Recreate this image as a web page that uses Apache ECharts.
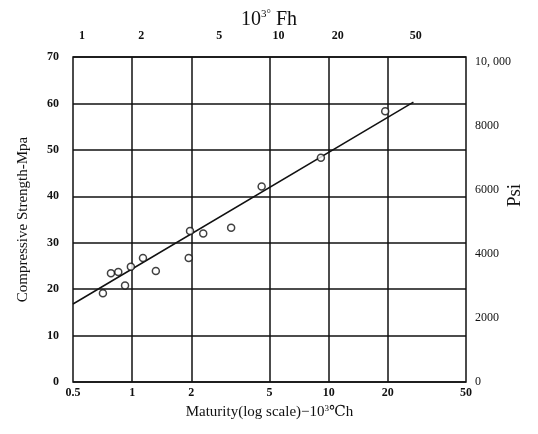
<!DOCTYPE html>
<html>
<head>
<meta charset="utf-8">
<script src="https://cdn.jsdelivr.net/npm/echarts@6/dist/echarts.min.js"></script>
<style>
  html, body { margin: 0; padding: 0; background: #fff; }
  #chart { width: 538px; height: 434px; }
</style>
</head>
<body>
<div id="chart"></div>
<script>
// maturity (10^3 °C·h) and compressive strength (MPa)
const maturity = [0.71, 0.78, 0.85, 0.92, 0.985, 1.135, 1.32, 1.94, 1.97, 2.3, 3.19, 4.56, 9.13, 19.4];
const strength = [19.1, 23.4, 23.7, 20.8, 24.8, 26.7, 23.9, 26.7, 32.5, 32.0, 33.2, 42.1, 48.3, 58.3];

// fitted line end points
const fitX = [0.5, 27];
const fitY = [16.8, 60.3];

const bottomTicks = [0.5, 1, 2, 5, 10, 20, 50];
const gridTicks = [1, 2, 5, 10, 20];
const topTicks = [1, 2, 5, 10, 20, 50];   // 10^3 °F·h

const serif = '"Liberation Serif", "DejaVu Serif", serif';
const ink = '#111';

const chart = echarts.init(document.getElementById('chart'));

chart.setOption({
  animation: false,
  backgroundColor: '#fff',
  title: {
    text: '10{sup|3°} Fh',
    left: 'center',
    top: 4,
    textStyle: {
      fontFamily: serif, fontSize: 20, fontWeight: 'normal', color: ink,
      rich: { sup: { fontFamily: serif, fontSize: 11, color: ink, verticalAlign: 'top', padding: [0, 0, 10, 0] } }
    }
  },
  grid: {
    left: 73, right: 72, top: 57, bottom: 52,
    outerBoundsMode: 'none',
    show: true, borderColor: ink, borderWidth: 1.5
  },
  xAxis: [
    {
      type: 'log', logBase: 10, min: 0.5, max: 50,
      name: 'Maturity(log scale)−10{sup|3}℃h',
      nameLocation: 'middle', nameGap: 20,
      nameTextStyle: {
        fontFamily: serif, fontSize: 15, color: ink,
        rich: { sup: { fontFamily: serif, fontSize: 9, color: ink, verticalAlign: 'top', padding: [0, 0, 8, 0] } }
      },
      axisLine: { show: false },
      axisTick: { show: false, customValues: gridTicks },
      axisLabel: { customValues: bottomTicks, margin: 5, fontFamily: serif, fontSize: 12, fontWeight: 'bold', color: ink },
      splitLine: { show: true, lineStyle: { color: ink, width: 1.5 } }
    },
    {
      type: 'log', logBase: 10, min: 0.9, max: 90, position: 'top',
      axisLine: { show: false },
      axisTick: { show: false },
      axisLabel: { customValues: topTicks, margin: 15, fontFamily: serif, fontSize: 12, fontWeight: 'bold', color: ink },
      splitLine: { show: false }
    }
  ],
  yAxis: [
    {
      type: 'value', min: 0, max: 70, interval: 10,
      name: 'Compressive Strength-Mpa',
      nameLocation: 'middle', nameGap: 42, nameRotate: 90,
      nameTextStyle: { fontFamily: serif, fontSize: 15, color: ink },
      axisLine: { show: false },
      axisTick: { show: false },
      axisLabel: { margin: 14, fontFamily: serif, fontSize: 12, fontWeight: 'bold', color: ink },
      splitLine: { show: true, lineStyle: { color: ink, width: 1.5 } }
    },
    {
      type: 'value', min: 0, max: 70 * 145.038, interval: 2000,
      position: 'right',
      name: 'Psi',
      nameLocation: 'middle', nameGap: 40, nameRotate: 90, nameMoveOverlap: false,
      nameTextStyle: { fontFamily: serif, fontSize: 19, color: ink, padding: [0, 0, 0, 48] },
      axisLine: { show: false },
      axisTick: { show: false },
      axisLabel: {
        margin: 9, showMaxLabel: false, fontFamily: serif, fontSize: 12, color: ink,
        formatter: v => (v === 10000 ? '10, 000' : String(v))
      },
      splitLine: { show: false }
    }
  ],
  series: [
    {
      type: 'line',
      data: fitX.map((x, i) => [x, fitY[i]]),
      showSymbol: false,
      lineStyle: { color: ink, width: 1.5 },
      z: 2
    },
    {
      type: 'scatter',
      data: maturity.map((x, i) => [x, strength[i]]),
      symbol: 'circle',
      symbolSize: 7,
      itemStyle: { color: '#fff', borderColor: ink, borderWidth: 1.5 },
      z: 3
    }
  ]
});
</script>
</body>
</html>
